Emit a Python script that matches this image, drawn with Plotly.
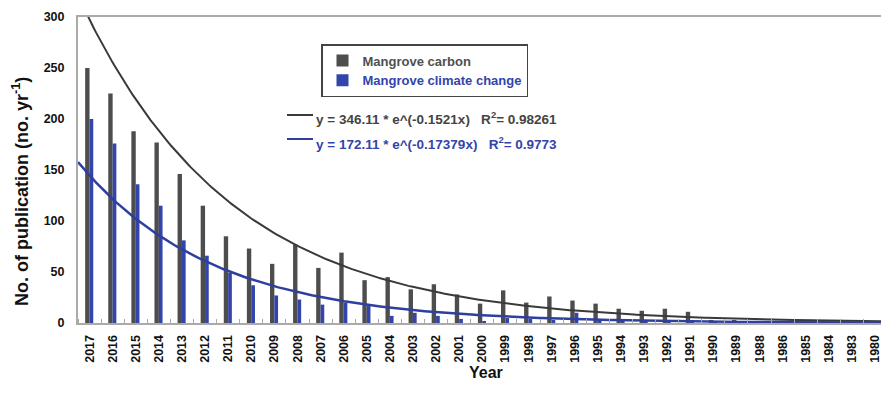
import numpy as np
import plotly.graph_objects as go

years = ["2017", "2016", "2015", "2014", "2013", "2012", "2011", "2010", "2009", "2008",
         "2007", "2006", "2005", "2004", "2003", "2002", "2001", "2000", "1999", "1998",
         "1997", "1996", "1995", "1994", "1993", "1992", "1991", "1990", "1989", "1988",
         "1986", "1985", "1984", "1983", "1980"]
carbon = [250, 225, 188, 177, 146, 115, 85, 73, 58, 77,
          54, 69, 42, 45, 33, 38, 28, 19, 32, 20,
          26, 22, 19, 14, 12, 14, 11, 3, 3, 2,
          2, 2, 1, 1, 1]
climate = [200, 176, 136, 115, 81, 66, 49, 37, 27, 23,
           18, 20, 17, 7, 10, 7, 4, 2, 5, 4,
           3, 10, 4, 2, 2, 1, 1, 1, 1, 1,
           1, 0, 1, 0, 0]
# Exponential trend lines as printed on the chart: y = a * exp(b * x), x = 1 for 2017
carbon_a, carbon_b = 346.11, -0.1521
climate_a, climate_b = 172.11, -0.17379

GRAY_BAR = "#4d4d4d"
BLUE_BAR = "#3344aa"
GRAY_LINE = "#3a3a3a"
BLUE_LINE = "#2e3fa0"
FONT = "Liberation Sans, Arial, sans-serif"

idx = list(range(len(years)))
xs = np.linspace(-0.5, len(years) - 0.7, 400)

fig = go.Figure()
fig.add_trace(go.Bar(
    x=idx, y=carbon, name="<span style='color:#505050'>Mangrove carbon</span>",
    marker=dict(color=GRAY_BAR, line=dict(width=0)), width=0.19, offset=-0.19,
))
fig.add_trace(go.Bar(
    x=idx, y=climate, name="<span style='color:#3344aa'>Mangrove climate change</span>",
    marker=dict(color=BLUE_BAR, line=dict(width=0)), width=0.16, offset=0.0,
))
fig.add_trace(go.Scatter(
    x=xs, y=carbon_a * np.exp(carbon_b * (xs + 1)), mode="lines",
    line=dict(color=GRAY_LINE, width=2), showlegend=False, hoverinfo="skip",
))
fig.add_trace(go.Scatter(
    x=xs, y=climate_a * np.exp(climate_b * (xs + 1)), mode="lines",
    line=dict(color=BLUE_LINE, width=2.5), showlegend=False, hoverinfo="skip",
))

W, H = 881, 394
ML, MR, MT, MB = 78, 0, 17, 71
pw = W - ML - MR
ph = H - MT - MB


def px_x(x):
    return (x - ML) / pw


def px_y(y):
    return (H - MB - y) / ph


fig.update_layout(
    width=W, height=H,
    margin=dict(l=ML, r=MR, t=MT, b=MB, pad=0),
    paper_bgcolor="white", plot_bgcolor="white",
    font=dict(family=FONT, size=12, color="#111111"),
    barmode="overlay",
    legend=dict(
        x=px_x(321), y=px_y(44), xanchor="left", yanchor="top",
        bordercolor="#444444", borderwidth=1.5, bgcolor="white",
        font=dict(family=FONT, size=13, weight="bold"),
        tracegroupgap=0, itemwidth=30,
    ),
    showlegend=True,
)

fig.update_xaxes(
    range=[-0.5, 34.26],
    tickmode="array", tickvals=idx, ticktext=years, tickangle=-90,
    tickfont=dict(family=FONT, size=12.5, weight="bold", color="#111111"),
    ticks="", showgrid=False, zeroline=False,
    showline=True, linecolor="#aaaaaa", linewidth=2, mirror=True,
    minor=dict(tickmode="array", tickvals=[i + 0.5 for i in range(-1, len(years))],
               ticks="inside", ticklen=4, tickcolor="#aaaaaa", tickwidth=1, showgrid=False),
    ticklabelstandoff=5, ticklabeloverflow="allow",
)
fig.update_yaxes(
    range=[0, 300], tickmode="array", tickvals=[0, 50, 100, 150, 200, 250, 300],
    tickfont=dict(family=FONT, size=12.5, weight="bold", color="#111111"),
    ticks="", showgrid=False, zeroline=False,
    showline=True, linecolor="#aaaaaa", linewidth=2,
    ticklabelstandoff=9,
)

# Axis titles
fig.add_annotation(
    x=px_x(20), y=px_y(192), xref="paper", yref="paper", xanchor="center", yanchor="middle",
    text="No. of publication (no. yr<sup>-1</sup>)", textangle=-90, showarrow=False,
    font=dict(family=FONT, size=18, weight="bold", color="#111111"),
)
fig.add_annotation(
    x=px_x(486), y=px_y(383), xref="paper", yref="paper",
    text="Year", showarrow=False,
    font=dict(family=FONT, size=16, weight="bold", color="#111111"),
)

# Trend-line equations with key lines
fig.add_shape(type="line", xref="paper", yref="paper",
              x0=px_x(287), x1=px_x(313), y0=px_y(115), y1=px_y(115),
              line=dict(color=GRAY_LINE, width=2))
fig.add_shape(type="line", xref="paper", yref="paper",
              x0=px_x(287), x1=px_x(313), y0=px_y(139), y1=px_y(139),
              line=dict(color=BLUE_LINE, width=2))
fig.add_annotation(
    x=px_x(314), y=px_y(118), xref="paper", yref="paper", xanchor="left", yanchor="middle",
    text=f"y = {carbon_a} * e^({carbon_b}x)   R<sup>2</sup>= 0.98261", showarrow=False,
    font=dict(family=FONT, size=13.5, weight="bold", color="#444444"),
)
fig.add_annotation(
    x=px_x(314), y=px_y(143), xref="paper", yref="paper", xanchor="left", yanchor="middle",
    text=f"y = {climate_a} * e^({climate_b}x)   R<sup>2</sup>= 0.9773", showarrow=False,
    font=dict(family=FONT, size=13.5, weight="bold", color=BLUE_BAR),
)

fig.write_html("out.html")
